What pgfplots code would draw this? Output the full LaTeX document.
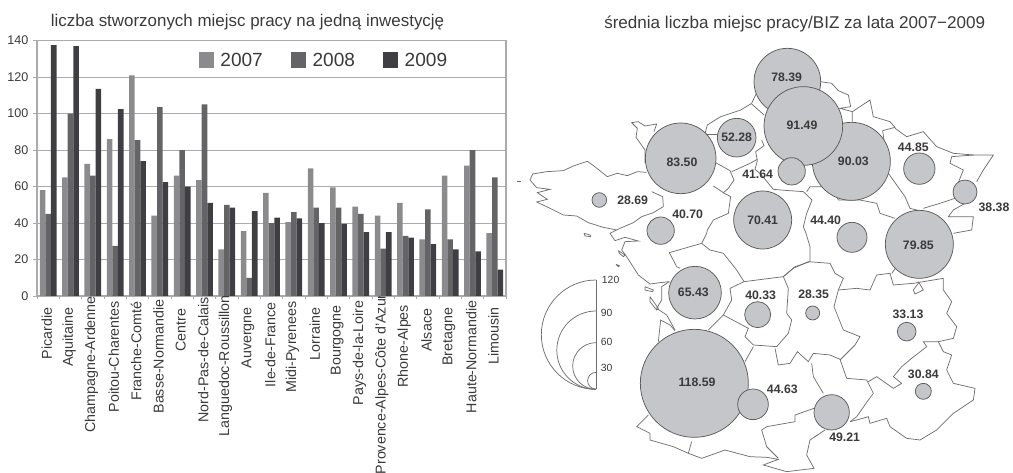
\documentclass[border=0pt]{standalone}
\usepackage{fontspec}
\setmainfont{Liberation Sans}
\usepackage{pgfplots}
\usepackage{pgfplotstable}
\pgfplotsset{compat=1.18}
% 1 px of the reference = 0.75pt here, map coordinates are 3x px
\definecolor{c07}{HTML}{8B8B8E}
\definecolor{c08}{HTML}{646467}
\definecolor{c09}{HTML}{3F3F43}
\definecolor{txt}{HTML}{3A3A3A}
\definecolor{gridc}{HTML}{ABABAB}
\definecolor{bubf}{HTML}{C5C6CA}
\definecolor{bubd}{HTML}{5A5A5A}
\definecolor{mapl}{HTML}{6E6E6E}
\newcommand\sh[2]{#1\hspace*{#2pt}}
\pgfplotsset{mapaxis/.style={
  at={(382.5pt,0pt)}, anchor=south west,
  scale only axis, width=377.25pt, height=354.75pt,
  xmin=0, xmax=1509, ymin=0, ymax=1419, y dir=reverse,
  hide axis, clip=false}}

\pgfplotstableread{
x y07 y08 y09
0 58 45 137.5
1 65 100 137
2 72.5 66 113.5
3 86 27.5 102.5
4 121 85.5 74
5 44 103.5 62.5
6 66 80 60
7 63.5 105 51
8 25.5 50 48.5
9 35.5 10 46.5
10 56.5 40 43
11 40.5 46 42.5
12 70 48.5 40
13 59.5 48.5 39.5
14 49 45 35
15 44 26 35
16 51 33 32
17 31 47.5 28.5
18 66 31 25.5
19 71.5 80 24.5
20 34.5 65 14.5
}\barsdata

\begin{document}
\begin{tikzpicture}
\useasboundingbox (0,0) rectangle (759.75pt,354.75pt);
\begin{axis}[
  at={(27.75pt,132.75pt)}, anchor=south west,
  scale only axis, width=351.75pt, height=191.5pt,
  ybar=0pt, bar width=4.2pt,
  xmin=-0.5, xmax=20.5, ymin=0, ymax=140,
  ytick={0,20,...,140},
  xtick={0,...,20},
  minor xtick={-0.5,0.5,...,20.5},
  xticklabels={\sh{Picardie}{10.2},\sh{Aquitaine}{9.8},\sh{Champagne-Ardenne}{1.5},\sh{Poitou-Charentes}{5.3},\sh{Franche-Comté}{5.5},\sh{Basse-Normandie}{3.8},\sh{Centre}{11},\sh{Nord-Pas-de-Calais}{2.3},\sh{Languedoc-Roussillon}{0.8},\sh{Auvergne}{9.8},\sh{Ile-de-France}{6},\sh{Midi-Pyrenees}{5.3},\sh{Lorraine}{10.2},\sh{Bourgogne}{8.3},\sh{Pays-de-la-Loire}{4.7},\sh{Provence-Alpes-Côte d'Azur}{0},\sh{Rhone-Alpes}{8},\sh{Alsace}{11},\sh{Bretagne}{10.2},\sh{Haute-Normandie}{4.7},\sh{Limousin}{9.8}},
  xticklabel style={yshift=4.5pt, xshift=-1pt, rotate=90, anchor=east, inner sep=0pt, font=\fontsize{10.7}{12}\selectfont, text=txt},
  yticklabel style={font=\fontsize{9.4}{11}\selectfont, text=txt},
  /pgf/number format/assume math mode=true,
  tick pos=left, tick align=outside,
  major tick length=3pt, minor tick length=2.5pt,
  xtick style={/pgfplots/major tick length=0pt},
  tick style={gridc, line width=0.7pt},
  axis line style={gridc, line width=0.8pt},
  ymajorgrids, grid style={gridc, line width=0.8pt},
  legend columns=3,
  legend style={draw=none, fill=none, at={(0.3365,0.92)}, anchor=west,
    font=\fontsize{14.3}{16}\selectfont, text=txt,
    /tikz/every even column/.append style={column sep=19.3pt}},
  legend image code/.code={\draw[#1, draw=none] (0pt,-5pt) rectangle (11pt,6.5pt); \path (14pt,0pt);},
]
\addplot[fill=c07, draw=none] table[x=x, y=y07] {\barsdata};
\addplot[fill=c08, draw=none] table[x=x, y=y08] {\barsdata};
\addplot[fill=c09, draw=none] table[x=x, y=y09] {\barsdata};
\legend{2007,2008,2009}
\end{axis}

\node[anchor=base west, inner sep=0pt, text=txt, font=\fontsize{12.7}{14}\selectfont] at (37.9pt,334.5pt) {liczba stworzonych miejsc pracy na jedną inwestycję};
\node[anchor=base west, inner sep=0pt, text=txt, font=\fontsize{12.8}{14}\selectfont] at (453pt,333pt) {średnia liczba miejsc pracy/BIZ za lata 2007−2009};

\begin{axis}[mapaxis,
  border/.style={mapl, line width=0.55pt, no marks, sharp plot},
]
% coast and region borders
\addplot[border] coordinates {(60,540)(68,522)(110,515)(160,512)(190,498)(232,484)(252,498)(292,530)(322,520)(352,527)(382,515)(410,517)};
\addplot[border] coordinates {(60,540)(80,563)(120,568)(82,578)(112,598)(80,606)(120,625)(160,645)(200,648)(235,668)(280,682)(320,690)(300,700)(315,722)(345,712)(385,723)(345,725)(335,750)(350,770)(385,825)(420,852)(450,848)(478,845)};
\addplot[border] coordinates {(425,575)(458,590)(460,620)(430,638)(395,650)(370,668)(330,685)(320,690)};
\addplot[border] coordinates {(405,490)(405,450)(378,412)(382,385)(365,368)(385,365)(405,378)(440,372)(432,395)};
\addplot[border] coordinates {(590,403)(625,403)};
\addplot[border] coordinates {(585,400)(592,375)(632,350)(692,330)(725,310)(740,278)};
\addplot[border] coordinates {(725,312)(762,345)};
\addplot[border] coordinates {(755,420)(762,437)(737,455)(742,482)(735,508)(752,522)(790,568)(812,570)(880,575)(906,600)(890,640)(880,680)(888,700)(900,740)(900,785)(855,800)(820,830)};
\addplot[border] coordinates {(617,488)(660,512)(672,540)(655,565)(640,578)(610,558)};
\addplot[border] coordinates {(665,515)(720,490)(742,478)};
\addplot[border] coordinates {(640,578)(662,590)(655,640)(610,660)(592,690)(590,700)(575,730)};
\addplot[border] coordinates {(575,730)(478,758)(500,800)(510,805)};
\addplot[border] coordinates {(575,730)(600,750)(640,760)(680,810)(702,845)};
\addplot[border] coordinates {(702,845)(660,865)(665,900)(640,945)(715,985)(705,1010)(730,1035)(800,1040)(835,1000)(845,960)(830,940)(835,865)(820,830)(702,845)};
\addplot[border] coordinates {(478,845)(455,860)(455,900)(440,925)(470,945)(495,990)};
\addplot[border] coordinates {(445,1025)(452,960)(480,975)(495,992)};
\addplot[border] coordinates {(640,945)(595,990)};
\addplot[border] coordinates {(730,1040)(705,1085)};
\addplot[border] coordinates {(415,1245)(380,1280)(420,1300)(420,1320)(490,1340)(535,1360)};
\addplot[border] coordinates {(545,1325)(535,1360)(575,1375)(645,1350)(720,1370)(770,1372)(805,1378)(760,1395)(830,1415)(912,1405)(890,1365)(900,1320)(945,1290)};
\addplot[border] coordinates {(1020,1265)(1040,1260)(1075,1250)(1080,1270)(1130,1255)(1140,1280)(1190,1315)(1230,1320)(1280,1290)(1330,1240)(1390,1200)(1395,1165)(1330,1150)(1310,1110)(1325,1065)(1300,1055)(1285,1025)};
\addplot[border] coordinates {(905,1090)(910,1130)(940,1180)};
\addplot[border] coordinates {(912,1225)(855,1245)(855,1265)(770,1280)(755,1290)(770,1340)(805,1375)};
\addplot[border] coordinates {(795,1045)(805,1095)(840,1090)(862,1055)(895,1085)(910,1060)(960,1065)(990,1078)(1010,1135)(1070,1140)(1090,1180)(1075,1200)(1040,1250)(1020,1265)};
\addplot[border] coordinates {(820,830)(850,805)(895,785)(960,790)(975,820)(1000,835)(985,870)(972,920)(1000,990)(1050,1010)(1035,1035)(990,1080)};
\addplot[border] coordinates {(985,870)(1040,865)(1080,870)(1100,825)(1140,820)(1150,855)(1210,850)(1300,835)(1300,870)(1325,905)(1310,940)(1340,980)(1330,1015)(1285,1025)(1240,1025)(1250,1040)(1205,1075)(1175,1100)(1150,1130)(1175,1150)(1150,1165)(1100,1130)(1075,1145)};
\addplot[border] coordinates {(1225,845)(1240,870)(1215,882)(1210,870)(1225,850)};
\addplot[border] coordinates {(1145,820)(1160,800)};
\addplot[border] coordinates {(890,575)(900,560)(965,560)(985,600)(1050,600)(1100,610)(1110,640)(1155,655)};
\addplot[border] coordinates {(930,245)(965,250)(985,272)(1015,285)(1022,320)(990,325)(1027,335)(1027,365)};
\addplot[border] coordinates {(1027,335)(1080,300)(1090,350)(1140,365)(1155,382)(1118,392)(1135,520)(1185,590)(1200,625)(1240,635)};
\addplot[border] coordinates {(1155,385)(1190,410)(1240,395)(1280,440)(1330,460)(1390,465)(1450,465)(1420,510)(1400,545)};
\addplot[border] coordinates {(1392,465)(1325,470)(1320,490)(1360,510)(1345,548)};
\addplot[border] coordinates {(1365,610)(1330,630)(1315,650)(1390,650)(1385,690)(1330,700)};
\addplot[border] coordinates {(1335,595)(1290,610)(1240,625)};
% islands
\addplot[border] coordinates {(222,700)(240,705)(242,710)(225,708)(222,700)};
\addplot[border] coordinates {(325,752)(345,765)(340,770)(328,760)(325,752)};
\addplot[border] coordinates {(318,793)(328,797)(325,800)(318,793)};
\addplot[border] coordinates {(405,860)(430,870)(428,875)(405,870)(405,860)};
\addplot[border] coordinates {(420,890)(445,925)(440,930)(420,905)(420,890)};
\addplot[border] coordinates {(22,543)(32,543)};

% bubbles: x, y, radius
\addplot[scatter, only marks, mark=*, line width=0.55pt,
  scatter/use mapped color={draw=bubd, fill=bubf},
  visualization depends on={\thisrow{r}/4 \as \bubr},
  scatter/@pre marker code/.append style={/tikz/mark size=\bubr pt}] table {
x y r
832 245 100
1024 484 117
880 378 118
680 413 58
512 475 106
845 514 41
1228 506 47
1365 576 36
268 600 22
452 692 41
758 660 87
1026 712 45
1228 733 102
555 878 79
743 944 39
908 939 21
1190 995 28
553 1150 162
729 1213 46
965 1237 53
1240 1174 24
};
\end{axis}

% labels in a second map axis so they sit above the bubbles
\begin{axis}[mapaxis]
\tikzset{val/.style={font=\bfseries\fontsize{9.2}{11}\selectfont, text=txt, inner sep=0pt}}
\node[val] at (axis cs:830,233) {78.39};
\node[val] at (axis cs:876,376) {91.49};
\node[val] at (axis cs:680,413) {52.28};
\node[val] at (axis cs:516,486) {83.50};
\node[val] at (axis cs:1030,484) {90.03};
\node[val] at (axis cs:743,524) {41.64};
\node[val] at (axis cs:1210,441) {44.85};
\node[val] at (axis cs:1452,622) {38.38};
\node[val] at (axis cs:368,600) {28.69};
\node[val] at (axis cs:533,643) {40.70};
\node[val] at (axis cs:758,662) {70.41};
\node[val] at (axis cs:947,662) {44.40};
\node[val] at (axis cs:1225,736) {79.85};
\node[val] at (axis cs:550,877) {65.43};
\node[val] at (axis cs:752,887) {40.33};
\node[val] at (axis cs:911,882) {28.35};
\node[val] at (axis cs:1194,944) {33.13};
\node[val] at (axis cs:561,1148) {118.59};
\node[val] at (axis cs:817,1168) {44.63};
\node[val] at (axis cs:1004,1312) {49.21};
\node[val] at (axis cs:1240,1124) {30.84};

% size key
\draw[mapl, line width=0.55pt] (axis cs:258,840) -- (axis cs:258,1168);
\draw[mapl, line width=0.55pt] (axis cs:258,840) arc[start angle=90, end angle=270, radius=41pt];
\draw[mapl, line width=0.55pt] (axis cs:258,933) arc[start angle=90, end angle=270, radius=29.4pt];
\draw[mapl, line width=0.55pt] (axis cs:258,1028) arc[start angle=90, end angle=270, radius=17.5pt];
\draw[mapl, line width=0.55pt] (axis cs:258,1117) arc[start angle=90, end angle=270, radius=6.3pt];
\tikzset{key/.style={font=\fontsize{7.8}{9}\selectfont, text=txt, inner sep=0pt, anchor=west}}
\node[key] at (axis cs:275,840) {120};
\node[key] at (axis cs:272,938) {90};
\node[key] at (axis cs:272,1026) {60};
\node[key] at (axis cs:272,1104) {30};
\end{axis}
\end{tikzpicture}
\end{document}
